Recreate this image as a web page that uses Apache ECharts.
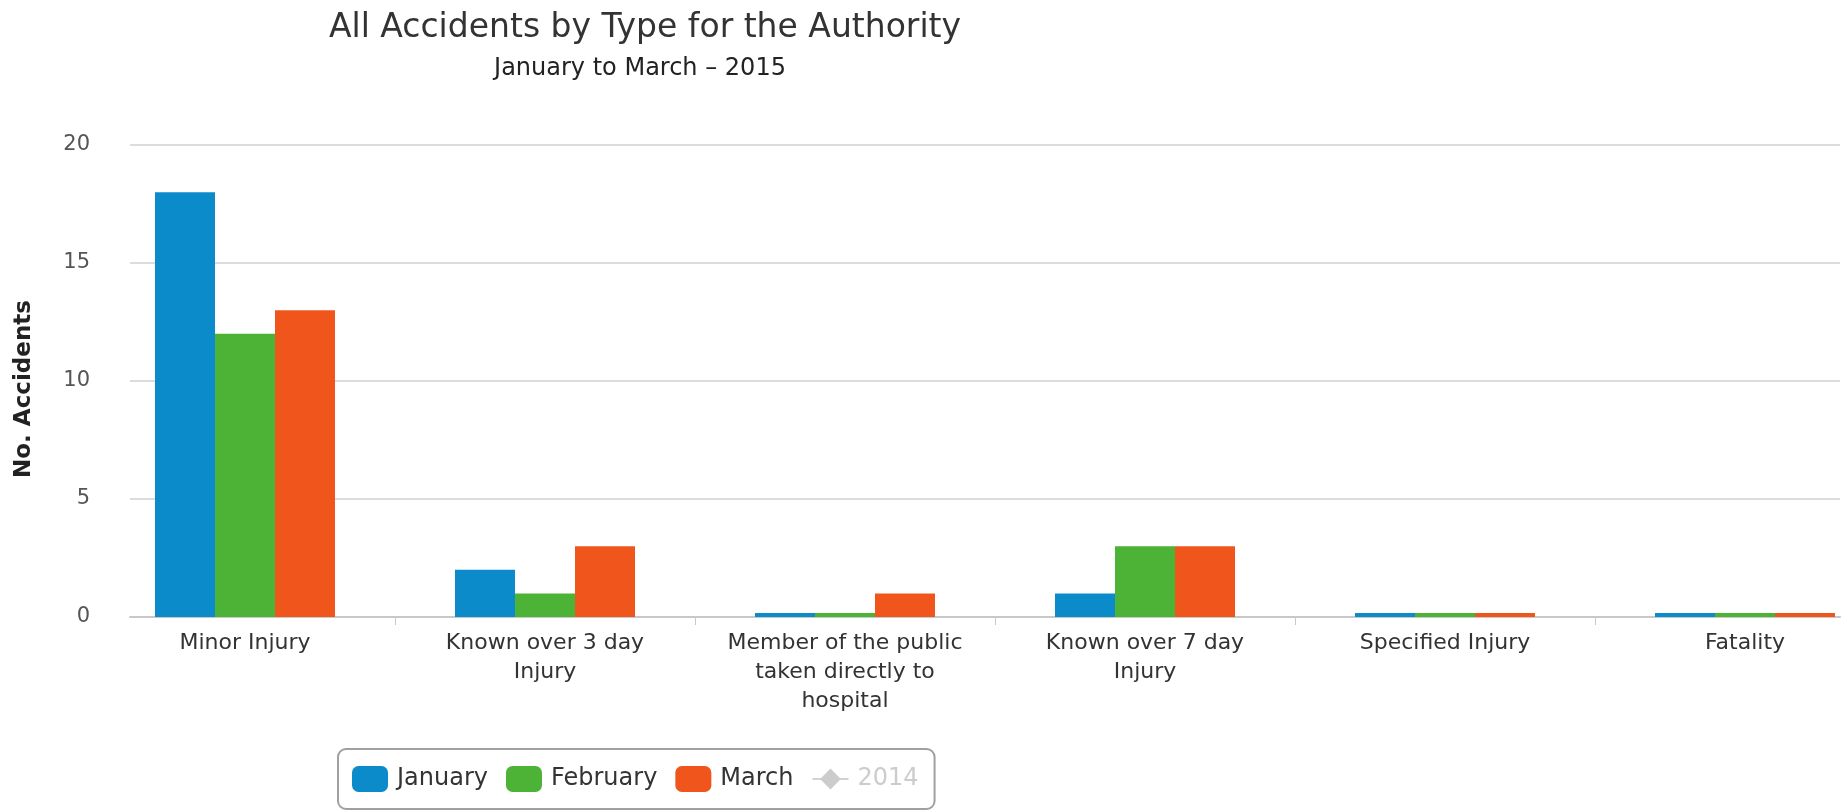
<!DOCTYPE html>
<html>
<head>
<meta charset="utf-8">
<script src="https://cdn.jsdelivr.net/npm/echarts@6/dist/echarts.min.js"></script>
<style>
html,body{margin:0;padding:0;background:#fff;}
#chart{width:1843px;height:811px;}
</style>
</head>
<body>
<div id="chart"></div>
<script>
// ---- data ----
var categories = ['Minor Injury', 'Known over 3 day Injury', 'Member of the public taken directly to hospital', 'Known over 7 day Injury', 'Specified Injury', 'Fatality'];
var categoryLabels = ['Minor Injury', 'Known over 3 day\nInjury', 'Member of the public\ntaken directly to\nhospital', 'Known over 7 day\nInjury', 'Specified Injury', 'Fatality'];
var january = [18, 2, 0, 1, 0, 0];
var february = [12, 1, 0, 3, 0, 0];
var march = [13, 3, 1, 3, 0, 0];
var series2014 = [];
var yTicks = [0, 5, 10, 15, 20];

var FONT = '"DejaVu Sans", Verdana, sans-serif';
var chart = echarts.init(document.getElementById('chart'), null, {renderer: 'canvas'});

function bar(name, data, color) {
  return {
    name: name, type: 'bar', data: data,
    xAxisIndex: 1, yAxisIndex: 1,
    barGap: '0%', barCategoryGap: '40%',
    barMinHeight: 4,
    itemStyle: {color: color},
    emphasis: {disabled: true}
  };
}

chart.setOption({
  animation: false,
  textStyle: {fontFamily: FONT},
  title: [
    {text: 'All Accidents by Type for the Authority', left: 640, top: 7, textAlign: 'center',
     textStyle: {fontSize: 33, fontWeight: 'normal', color: '#333', fontFamily: FONT}},
    {text: 'January to March \u2013 2015', left: 635, top: 52, textAlign: 'center',
     textStyle: {fontSize: 24, fontWeight: 'normal', color: '#222', fontFamily: FONT}}
  ],
  legend: {
    left: 338, top: 749,
    itemWidth: 36, itemHeight: 26, itemGap: 18,
    padding: [17, 16, 17, 14],
    borderColor: '#a0a0a0', borderWidth: 2, borderRadius: 8,
    inactiveColor: '#cccccc',
    textStyle: {fontSize: 24, color: '#333', fontFamily: FONT, padding: [0, 0, 0, 4]},
    data: [
      {name: 'January', icon: 'roundRect'},
      {name: 'February', icon: 'roundRect'},
      {name: 'March', icon: 'roundRect'},
      {name: '2014'}
    ],
    selected: {'2014': false}
  },
  grid: [
    {left: 130, right: 3, top: 145, bottom: 194, outerBoundsMode: 'none'},
    {left: 95, width: 1800, top: 145, bottom: 194, outerBoundsMode: 'none'}
  ],
  xAxis: [
    {type: 'value', gridIndex: 0, min: 0, max: 1,
     axisLine: {show: true, lineStyle: {color: '#c8c8c8', width: 2}},
     axisTick: {show: false}, axisLabel: {show: false}, splitLine: {show: false}},
    {type: 'category', gridIndex: 1, data: categories,
     axisLine: {show: false},
     axisTick: {show: true, length: 8, lineStyle: {color: '#c8c8c8', width: 1},
                interval: function (index) { return index !== 0; }},
     axisLabel: {
       interval: 0, margin: 12, fontSize: 22, lineHeight: 29, color: '#333', fontFamily: FONT,
       formatter: function (v, i) { return categoryLabels[i]; }
     },
     splitLine: {show: false}}
  ],
  yAxis: [
    {type: 'value', gridIndex: 0, min: yTicks[0], max: yTicks[yTicks.length - 1], interval: 5,
     name: 'No. Accidents', nameLocation: 'middle', nameGap: 94, nameRotate: 90,
     nameTextStyle: {fontSize: 23, fontWeight: 'bold', color: '#222', fontFamily: FONT, padding: [0, 16, 0, 0]},
     axisLine: {show: false}, axisTick: {show: false},
     axisLabel: {margin: 40, fontSize: 21, color: '#555', fontFamily: FONT},
     splitLine: {show: true, lineStyle: {color: '#dcdcdc', width: 2}}},
    {type: 'value', gridIndex: 1, min: yTicks[0], max: yTicks[yTicks.length - 1], interval: 5, show: false,
     splitLine: {show: false}}
  ],
  series: [
    bar('January', january, '#0b8bc9'),
    bar('February', february, '#4db337'),
    bar('March', march, '#f0561c'),
    {name: '2014', type: 'line', data: series2014, xAxisIndex: 1, yAxisIndex: 1,
     symbol: 'diamond', symbolSize: 12, itemStyle: {color: '#9e9e9e'}, lineStyle: {color: '#9e9e9e', width: 2}}
  ]
});
</script>
</body>
</html>
